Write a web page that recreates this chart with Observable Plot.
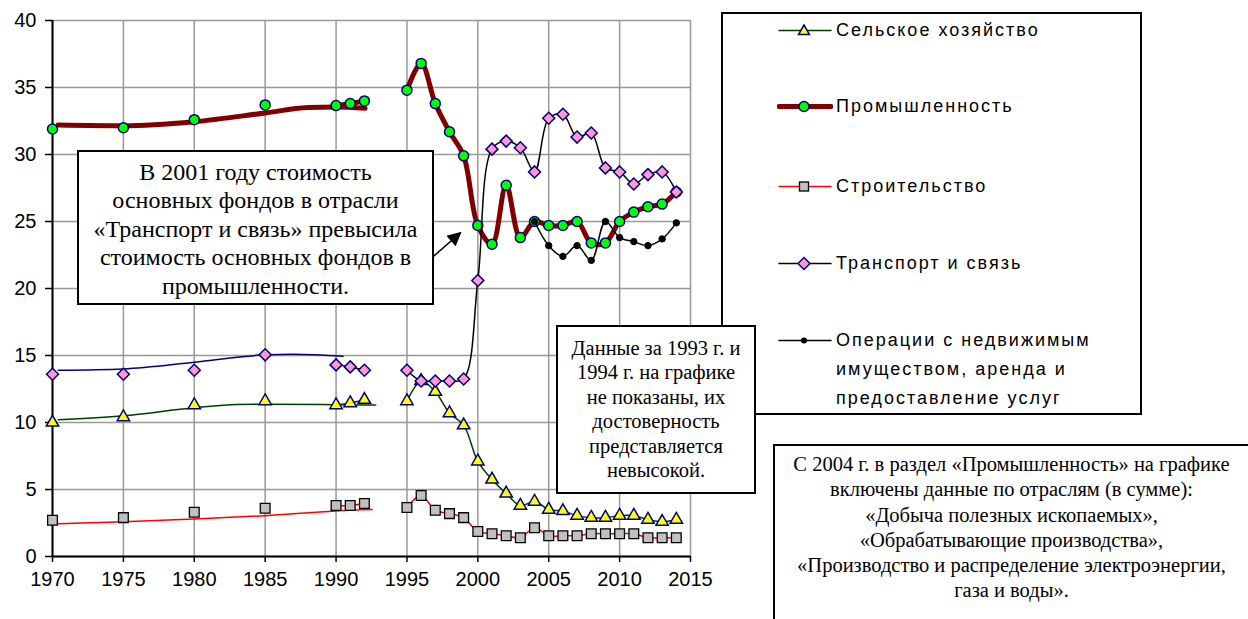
<!DOCTYPE html>
<html><head><meta charset="utf-8">
<script src="https://cdn.jsdelivr.net/npm/d3@7"></script>
<script src="https://cdn.jsdelivr.net/npm/@observablehq/plot@0.6"></script>
<style>
html,body{margin:0;padding:0;background:#fff;overflow:hidden;}
#wrap{position:relative;width:1248px;height:619px;overflow:hidden;}
#chart{position:absolute;left:0;top:0;}
.box{position:absolute;border:2px solid #000;background:#fff;box-sizing:border-box;font-family:"Liberation Serif","Times New Roman",serif;text-align:center;color:#000;}
.box div{white-space:nowrap;}
#legend{position:absolute;left:721px;top:12px;width:421px;height:403px;border:2px solid #000;box-sizing:border-box;background:#fff;}
.li{position:absolute;left:0;font-family:"Liberation Sans",Arial,sans-serif;font-size:18px;letter-spacing:2px;color:#000;line-height:29px;}
.li svg{position:absolute;left:54px;}
.li span{position:absolute;left:113px;white-space:nowrap;}
</style>
</head><body>
<div id="wrap">
  <div id="chart"></div>
  <div id="legend"></div>
  <div class="box" id="note1" style="left:77px;top:150px;width:357px;height:155px;font-size:24px;line-height:28.4px;padding-top:6px;"></div>
  <div class="box" id="note2" style="left:556px;top:325px;width:200px;height:169px;font-size:20.5px;line-height:24.4px;padding-top:9px;"></div>
  <div class="box" id="note3" style="left:773px;top:444px;width:477px;height:220px;font-size:20.5px;line-height:25.3px;padding-top:6px;"></div>
</div>
<script>
// ---- data ----
const years = [1970,1975,1980,1985,1990,1991,1992,
  1995,1996,1997,1998,1999,2000,2001,2002,2003,2004,2005,2006,2007,2008,2009,2010,2011,2012,2013,2014];
const agriculture = [10.0,10.4,11.3,11.6,11.3,11.45,11.7,
  11.6,13.1,12.3,10.7,9.8,7.1,5.75,4.7,3.8,4.1,3.5,3.4,3.05,2.9,2.9,3.05,3.05,2.75,2.6,2.75];
const industry = [31.9,32.0,32.6,33.7,33.65,33.8,34.0,
  34.8,36.8,33.8,31.7,29.9,24.7,23.3,27.7,23.8,25.0,24.7,24.7,25.0,23.4,23.4,25.0,25.7,26.1,26.3,27.2];
const construction = [2.7,2.9,3.3,3.6,3.8,3.8,3.95,
  3.65,4.55,3.45,3.2,2.9,1.87,1.7,1.55,1.4,2.14,1.55,1.55,1.55,1.7,1.7,1.7,1.7,1.4,1.4,1.4];
const transport = [13.6,13.6,13.9,15.05,14.3,14.15,13.9,
  13.9,13.1,13.1,13.1,13.25,20.6,30.4,31.0,30.5,28.7,32.7,33.0,31.3,31.6,29.0,28.7,27.8,28.5,28.7,27.2];
const opsYears = [2004,2005,2006,2007,2008,2009,2010,2011,2012,2013,2014];
const operations = [25.0,23.2,22.4,23.2,22.1,25.0,23.8,23.5,23.2,23.7,24.9];

// smoothed trend curves drawn for 1970–1992
const industryTrendX = [1970.4,1975,1980,1985,1988,1990,1992.05];
const industryTrendY = [32.2,32.15,32.45,33.1,33.5,33.55,33.45];
const transportTrendX = [1970.4,1975,1980,1985,1987,1990.5];
const transportTrendY = [13.9,14.0,14.5,15.05,15.1,14.95];
const agricultureTrendX = [1970.4,1975,1980,1983,1985,1990,1992.8];
const agricultureTrendY = [10.2,10.5,11.1,11.35,11.37,11.33,11.3];
const constructionTrendX = [1970.4,1975,1980,1985,1990,1992.55];
const constructionTrendY = [2.45,2.6,2.8,3.05,3.4,3.5];

const xTicks = [1970,1975,1980,1985,1990,1995,2000,2005,2010,2015];
const yTicks = [0,5,10,15,20,25,30,35,40];

const seriesNames = ["Сельское хозяйство","Промышленность","Строительство","Транспорт и связь",
  "Операции с недвижимым|имуществом, аренда и|предоставление услуг"];

const arrowData = [{x1:1996.87, y1:22.4, x2:1998.78, y2:24.16}];

const note1 = ["В 2001 году стоимость","основных фондов в отрасли","«Транспорт и связь» превысила","стоимость основных фондов в","промышленности."];
const note2 = ["Данные за 1993 г. и","1994 г. на графике","не показаны, их","достоверность","представляется","невысокой."];
const note3 = ["С 2004 г. в раздел «Промышленность» на графике","включены данные по отраслям (в сумме):","«Добыча полезных ископаемых»,","«Обрабатывающие производства»,","«Производство и распределение электроэнергии,","газа и воды»."];

// ---- build tables ----
const seg = y => y < 1990 ? y : (y <= 1992 ? 1990 : 1995);
const rows = years.map((yr,i)=>({year:yr, seg:seg(yr), agriculture:agriculture[i], industry:industry[i], construction:construction[i], transport:transport[i]}));
const opsRows = opsYears.map((yr,i)=>({year:yr, v:operations[i]}));
const tr = (xs,ys)=>xs.map((x,i)=>({x, y:ys[i]}));

const W=1248, H=619;
const plot = Plot.plot({
  width: W, height: H,
  marginLeft: 52, marginRight: W-690, marginTop: 20, marginBottom: H-556,
  x: {domain:[1970,2015]},
  y: {domain:[0,40]},
  style: {fontFamily:"'Liberation Sans', Arial, sans-serif", fontSize:"20px", color:"#000", background:"transparent", overflow:"visible"},
  marks: [
    Plot.gridX(xTicks, {stroke:"#999", strokeOpacity:1, strokeWidth:1.5}),
    Plot.gridY(yTicks, {stroke:"#999", strokeOpacity:1, strokeWidth:1.5}),
    Plot.axisY(yTicks, {tickSize:7, tickPadding:9, fontSize:20, stroke:"#000", strokeWidth:1.5}),
    Plot.axisX(xTicks, {tickFormat:d=>String(d), tickSize:6, tickPadding:9, fontSize:20, stroke:"#000", strokeWidth:1.5}),
    Plot.ruleX([1970], {stroke:"#000", strokeWidth:2}),
    Plot.ruleY([0], {stroke:"#000", strokeWidth:2}),
    // agriculture
    Plot.line(tr(agricultureTrendX,agricultureTrendY), {x:"x", y:"y", stroke:"#003c00", strokeWidth:1.5, curve:"monotone-x"}),
    Plot.line(rows, {x:"year", y:"agriculture", z:"seg", stroke:"#003c00", strokeWidth:1.5, curve:"catmull-rom"}),
    Plot.dot(rows, {x:"year", y:"agriculture", symbol:"triangle", r:4.6, fill:"#ffff00", stroke:"#000080", strokeWidth:1.5}),
    // industry
    Plot.line(tr(industryTrendX,industryTrendY), {x:"x", y:"y", stroke:"#800000", strokeWidth:5, curve:"monotone-x"}),
    Plot.line(rows, {x:"year", y:"industry", z:"seg", stroke:"#800000", strokeWidth:5, curve:"catmull-rom"}),
    Plot.dot(rows, {x:"year", y:"industry", r:5, fill:"#00ff00", stroke:"#000080", strokeWidth:1.5}),
    // construction
    Plot.line(tr(constructionTrendX,constructionTrendY), {x:"x", y:"y", stroke:"#ff0000", strokeWidth:1.5, curve:"monotone-x"}),
    Plot.line(rows, {x:"year", y:"construction", z:"seg", stroke:"#ff0000", strokeWidth:1.5, curve:"catmull-rom"}),
    Plot.dot(rows, {x:"year", y:"construction", symbol:"square", r:5.5, fill:"#c0c0c0", stroke:"#000", strokeWidth:1.3}),
    // transport
    Plot.line(tr(transportTrendX,transportTrendY), {x:"x", y:"y", stroke:"#000080", strokeWidth:1.5, curve:"monotone-x"}),
    Plot.line(rows, {x:"year", y:"transport", z:"seg", stroke:"#000", strokeWidth:1.5, curve:"catmull-rom"}),
    Plot.dot(rows, {x:"year", y:"transport", symbol:"diamond2", r:5.4, fill:"#ff99cc", stroke:"#000080", strokeWidth:1.5}),
    // operations
    Plot.line(opsRows, {x:"year", y:"v", stroke:"#000", strokeWidth:1.5, curve:"catmull-rom"}),
    Plot.dot(opsRows, {x:"year", y:"v", r:3.2, fill:"#000", stroke:"#000", strokeWidth:1}),
    // annotation arrow
    Plot.link(arrowData, {x1:"x1", y1:"y1", x2:"x2", y2:"y2", stroke:"#000", strokeWidth:1.5})
  ]
});
document.getElementById("chart").appendChild(plot);

// filled arrowhead
const svg = d3.select(plot);
const defs = svg.append("defs");
defs.append("marker").attr("id","ahead").attr("viewBox","0 0 10 10").attr("refX",9).attr("refY",5)
  .attr("markerWidth",16).attr("markerHeight",14).attr("markerUnits","userSpaceOnUse").attr("orient","auto")
  .append("path").attr("d","M0,0 L10,5 L0,10 Z").attr("fill","#000");
svg.selectAll('g[aria-label="link"] path').attr("marker-end","url(#ahead)");

// notes
function fill(id, lines){ const el=document.getElementById(id); lines.forEach(t=>{const d=document.createElement("div"); d.textContent=t; el.appendChild(d);}); }
fill("note1", note1); fill("note2", note2); fill("note3", note3);

// legend
const legendStyles = [
  {line:"#003c00", w:1.5, sym:"tri"},
  {line:"#800000", w:5, sym:"circle"},
  {line:"#ff0000", w:1.5, sym:"square"},
  {line:"#000", w:1.5, sym:"diamond"},
  {line:"#000", w:1.5, sym:"dot"}
];
const legendCenters = [16, 92, 172, 249, 326];
const lg = document.getElementById("legend");
seriesNames.forEach((name,i)=>{
  const s = legendStyles[i];
  const item = document.createElement("div");
  item.className="li";
  item.style.top = (legendCenters[i]-14.5)+"px";
  let sym = "";
  if (s.sym==="tri") sym = '<polygon points="27,9 21.5,18.5 32.5,18.5" fill="#ffff00" stroke="#000080" stroke-width="1.5"/>';
  if (s.sym==="circle") sym = '<circle cx="27" cy="14.5" r="5" fill="#00ff00" stroke="#000080" stroke-width="1.5"/>';
  if (s.sym==="square") sym = '<rect x="22.5" y="10" width="9" height="9" fill="#c0c0c0" stroke="#000" stroke-width="1.3"/>';
  if (s.sym==="diamond") sym = '<polygon points="27,8.5 33,14.5 27,20.5 21,14.5" fill="#ff99cc" stroke="#000080" stroke-width="1.5"/>';
  if (s.sym==="dot") sym = '<circle cx="27" cy="14.5" r="3" fill="#000"/>';
  const lineSvg = `<svg width="56" height="29" style="top:0"><line x1="2" y1="14.5" x2="54" y2="14.5" stroke="${s.line}" stroke-width="${s.w}" stroke-linecap="round"/>${sym}</svg>`;
  const text = name.split("|").join("<br>");
  item.innerHTML = lineSvg + `<span>${text}</span>`;
  lg.appendChild(item);
});
</script>
</body></html>
